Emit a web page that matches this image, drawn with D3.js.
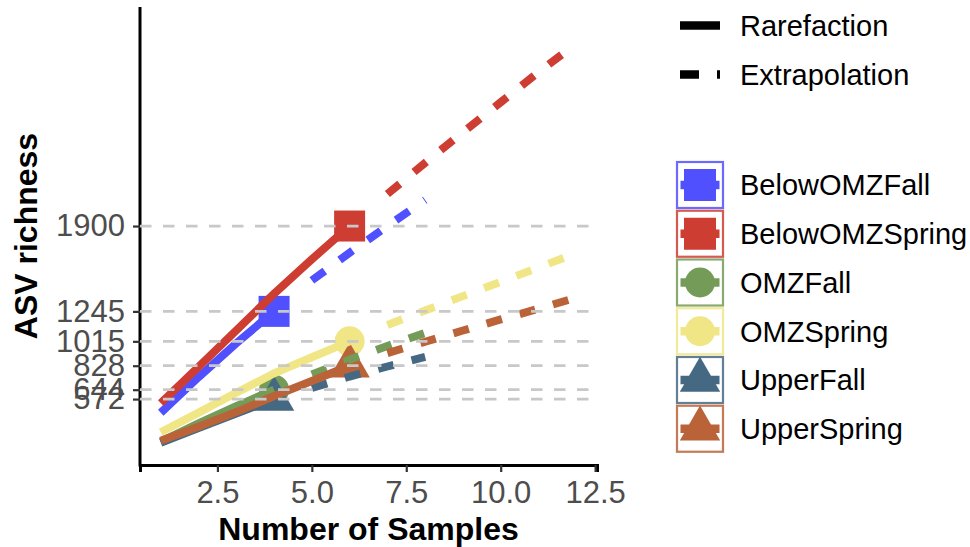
<!DOCTYPE html>
<html>
<head>
<meta charset="utf-8">
<script src="https://cdn.jsdelivr.net/npm/d3@7"></script>
<style>
    body { margin: 0; background: #fff; }
    svg text { font-family: "Liberation Sans", Arial, Helvetica, sans-serif; }
</style>
</head>
<body>
<div class="chart"></div>
<script>
// groups, colours and shapes
var groups = ["BelowOMZFall", "BelowOMZSpring", "OMZFall", "OMZSpring", "UpperFall", "UpperSpring"];
var colors = ["#5050FF", "#CE3D32", "#749B58", "#F0E685", "#466983", "#BA6338"];
var shapes = ["square", "square", "circle", "circle", "triangle", "triangle"];
var observedSamples = [4, 6, 4, 6, 4, 6];

// rarefaction (m = 1..T) and extrapolation (m = T+1..2T) richness
var rareBelowOMZFall = [467, 740, 1000, 1245];
var extraBelowOMZFall = [1483, 1695, 1900, 2100];
var rareBelowOMZSpring = [540, 820, 1100, 1380, 1645, 1900];
var extraBelowOMZSpring = [2146, 2385, 2620, 2850, 3080, 3300];
var rareOMZFall = [245, 385, 518, 644];
var extraOMZFall = [760, 875, 980, 1079];
var rareOMZSpring = [317, 468, 620, 770, 893, 1015];
var extraOMZSpring = [1140, 1252, 1362, 1472, 1582, 1692];
var rareUpperFall = [237, 350, 462, 572];
var extraUpperFall = [657, 745, 822, 895];
var rareUpperSpring = [252, 360, 472, 595, 710, 828];
var extraUpperSpring = [925, 1012, 1098, 1183, 1265, 1350];

var rareValues = [rareBelowOMZFall, rareBelowOMZSpring, rareOMZFall, rareOMZSpring, rareUpperFall, rareUpperSpring];
var extraValues = [extraBelowOMZFall, extraBelowOMZSpring, extraOMZFall, extraOMZSpring, extraUpperFall, extraUpperSpring];

var xTicks = [2.5, 5, 7.5, 10, 12.5];
var yTicks = [572, 644, 828, 1015, 1245, 1900];

var width = 970, height = 547;
var margin = {top: 7, right: 373, bottom: 82, left: 140};

var svg = d3.select(".chart").append("svg")
        .attr("width", width)
        .attr("height", height);

var x = d3.scaleLinear().domain([0.45, 12.55]).range([margin.left, width - margin.right]);
var y = d3.scaleLinear().domain([66, 3581]).range([height - margin.bottom, margin.top]);

// build series
var series = groups.map(function (g, i) {
    var T = observedSamples[i];
    return {
        name: g,
        color: colors[i],
        shape: shapes[i],
        T: T,
        obs: rareValues[i][T - 1],
        rare: rareValues[i].map(function (v, k) { return {m: k + 1, v: v}; }),
        extra: extraValues[i].map(function (v, k) { return {m: T + 1 + k, v: v}; })
    };
});

function shapePath(shape, s) {
    if (shape === "square") {
        return d3.symbol().type(d3.symbolSquare).size(s * s)();
    }
    if (shape === "circle") {
        return d3.symbol().type(d3.symbolCircle).size(Math.PI * s * s / 4)();
    }
    // R style filled triangle, R = s
    var r = 1.5551 * s, yc = 0.7776 * s, xc = 1.3468 * s;
    return "M0," + (-r) + "L" + xc + "," + yc + "L" + (-xc) + "," + yc + "Z";
}
var shapeSize = {square: 31, circle: 30, triangle: 15};

var line = d3.line()
        .x(function (d) { return x(d.m); })
        .y(function (d) { return y(d.v); });

// Draw points (drawn before lines)
svg.append("g").selectAll("path")
        .data(series)
        .enter().append("path")
        .attr("transform", function (d) { return "translate(" + x(d.T) + "," + y(d.obs) + ")"; })
        .attr("d", function (d) { return shapePath(d.shape, shapeSize[d.shape]); })
        .attr("fill", function (d) { return d.color; });

// Draw lines
var lines = svg.append("g").attr("fill", "none");
series.forEach(function (s) {
    lines.append("path")
            .attr("d", line(s.rare))
            .attr("stroke", s.color)
            .attr("stroke-width", 8);
    lines.append("path")
            .attr("d", line(s.extra))
            .attr("stroke", s.color)
            .attr("stroke-width", 8)
            .attr("stroke-dasharray", "16,18.5");
});

// Draw x axis
var x_g = svg.append("g")
        .attr("transform", "translate(0," + (height - margin.bottom) + ")")
        .call(d3.axisBottom(x).tickValues(xTicks).tickFormat(d3.format(".1f")).tickSizeOuter(0).tickSize(7).tickPadding(9));
x_g.select(".domain").attr("stroke", "#000").attr("stroke-width", 3);
x_g.selectAll("line").attr("stroke", "#333").attr("stroke-width", 2.2);
x_g.selectAll("text").attr("fill", "#4D4D4D").style("font-size", "31px");

// Draw y axis
var y_g = svg.append("g")
        .attr("transform", "translate(" + margin.left + ",0)")
        .call(d3.axisLeft(y).tickValues(yTicks).tickFormat(d3.format("d")).tickSizeOuter(0).tickSize(7).tickPadding(8));
y_g.select(".domain").attr("stroke", "#000").attr("stroke-width", 3)
        .attr("d", "M0," + margin.top + "V" + (height - margin.bottom + 1.5));
y_g.selectAll("line").attr("stroke", "#333").attr("stroke-width", 2.2);
y_g.selectAll("text").attr("fill", "#4D4D4D").style("font-size", "31px");

// dashed reference lines at observed richness (on top)
svg.append("g").selectAll("line")
        .data(yTicks)
        .enter().append("line")
        .attr("x1", margin.left)
        .attr("x2", width - margin.right)
        .attr("y1", function (d) { return y(d); })
        .attr("y2", function (d) { return y(d); })
        .attr("stroke", "#C8C8C8")
        .attr("stroke-width", 2.7)
        .attr("stroke-dasharray", "11.5,11.5");

// Axis titles
svg.append("text")
        .attr("x", (margin.left + width - margin.right) / 2)
        .attr("y", 540)
        .attr("text-anchor", "middle")
        .style("font-size", "32px")
        .style("font-weight", "bold")
        .text("Number of Samples");
svg.append("text")
        .attr("transform", "translate(37," + ((margin.top + height - margin.bottom) / 2) + ") rotate(-90)")
        .attr("text-anchor", "middle")
        .style("font-size", "32px")
        .style("font-weight", "bold")
        .text("ASV richness");

// Legend: line type
var methods = ["Rarefaction", "Extrapolation"];
var lt = svg.append("g").attr("transform", "translate(680,0)");
methods.forEach(function (m, i) {
    var cy = 25.5 + i * 49;
    lt.append("line")
            .attr("x1", 0).attr("x2", 40)
            .attr("y1", cy).attr("y2", cy)
            .attr("stroke", "#000")
            .attr("stroke-width", 8.5)
            .attr("stroke-dasharray", i === 0 ? null : "19,18");
    lt.append("text")
            .attr("x", 60)
            .attr("y", cy)
            .attr("dy", "0.36em")
            .style("font-size", "29px")
            .text(m);
});

// Legend: groups
var lg = svg.append("g").attr("transform", "translate(700,0)");
series.forEach(function (s, i) {
    var cy = 185 + i * 48.75;
    lg.append("rect")
            .attr("x", -23).attr("y", cy - 23)
            .attr("width", 46).attr("height", 46)
            .attr("fill", "#fff")
            .attr("stroke", s.color)
            .attr("stroke-opacity", 0.85)
            .attr("stroke-width", 2.2);
    lg.append("path")
            .attr("transform", "translate(0," + cy + ")")
            .attr("d", shapePath(s.shape, s.shape === "square" ? 32 : shapeSize[s.shape]))
            .attr("fill", s.color);
    lg.append("line")
            .attr("x1", -19.5).attr("x2", 19.5)
            .attr("y1", cy).attr("y2", cy)
            .attr("stroke", s.color)
            .attr("stroke-width", 8.5);
    lg.append("text")
            .attr("x", 40)
            .attr("y", cy)
            .attr("dy", "0.36em")
            .style("font-size", "29px")
            .text(s.name);
});
</script>
</body>
</html>
